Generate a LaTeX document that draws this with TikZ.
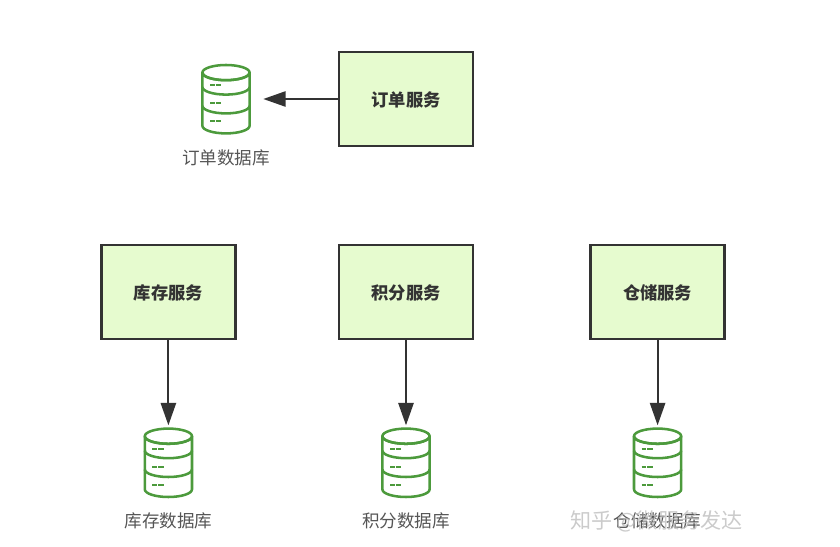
\documentclass[tikz,border=0pt]{standalone}
\usepackage{fontspec}
\setmainfont{Noto Sans CJK SC}
\usetikzlibrary{positioning}
\usetikzlibrary{arrows.meta}
\definecolor{boxfill}{HTML}{E6FBCF}
\definecolor{boxline}{HTML}{333333}
\definecolor{dbgreen}{HTML}{4C9A3C}
\definecolor{dbtext}{HTML}{555555}
\tikzstyle{service} = [draw=boxline,fill=boxfill,line width=1.9pt,minimum width=3.35cm,minimum height=2.35cm,text=boxline,text height=12pt,text depth=1.5pt,font=\fontsize{12.3}{14}\selectfont\bfseries]
\tikzstyle{dbslot} = [minimum size=1.85cm,inner sep=0pt]
\tikzstyle{dblabel} = [text=dbtext,inner sep=0pt,font=\fontsize{12.5}{14}\selectfont]
\tikzstyle{flow} = [draw=boxline,line width=1.5pt,-{Triangle[length=5.6mm,width=3.8mm]}]
\newcommand{\dbicon}[1]{
  \begin{scope}[shift={(#1)},draw=dbgreen,line width=1.8pt,line join=round]
    \draw (-.59,.66) arc (180:360:.59 and .19) -- (.59,-.67) arc (360:180:.59 and .19) -- cycle;
    \draw (0,.66) ellipse (.59 and .19);
    \draw (-.59,.30) arc (180:360:.59 and .19);
    \draw (-.59,-.17) arc (180:360:.59 and .19);
    \foreach \y in {.34,-.11,-.56} {
      \draw[line width=1.5pt] (-.40,\y) -- ++(.12,0) (-.26,\y) -- ++(.14,0);
    }
  \end{scope}
}

\begin{document}
\begin{tikzpicture}
\useasboundingbox (0,0) rectangle (21,13.675);

\node[service] (order) at (10.15,11.2) {订单服务};
\node[service] (stock) at (4.21,6.375) {库存服务};
\node[service] (points) at (10.15,6.375) {积分服务};
\node[service] (store) at (16.44,6.375) {仓储服务};

\node[dbslot] (orderdb) at (5.65,11.2) {};
\node[dbslot] (stockdb) at (4.21,2.11) {};
\node[dbslot] (pointsdb) at (10.15,2.11) {};
\node[dbslot] (storedb) at (16.44,2.11) {};

\foreach \n in {orderdb,stockdb,pointsdb,storedb} {
  \dbicon{\n}
}

\node[dblabel,below=.32 of orderdb] (orderlabel) {订单数据库};
\node[dblabel,below=.32 of stockdb] (stocklabel) {库存数据库};
\node[dblabel,below=.32 of pointsdb] (pointslabel) {积分数据库};
\node[dblabel,below=.32 of storedb] (storelabel) {仓储数据库};

\node[right=-3.3 of storelabel,inner sep=0pt,text=gray!55,opacity=.75,font=\fontsize{15}{17}\selectfont] (mark) {知乎 @微服务发达};

\draw[flow] (order) -- (orderdb);
\draw[flow] (stock) -- (stockdb);
\draw[flow] (points) -- (pointsdb);
\draw[flow] (store) -- (storedb);

\end{tikzpicture}
\end{document}
